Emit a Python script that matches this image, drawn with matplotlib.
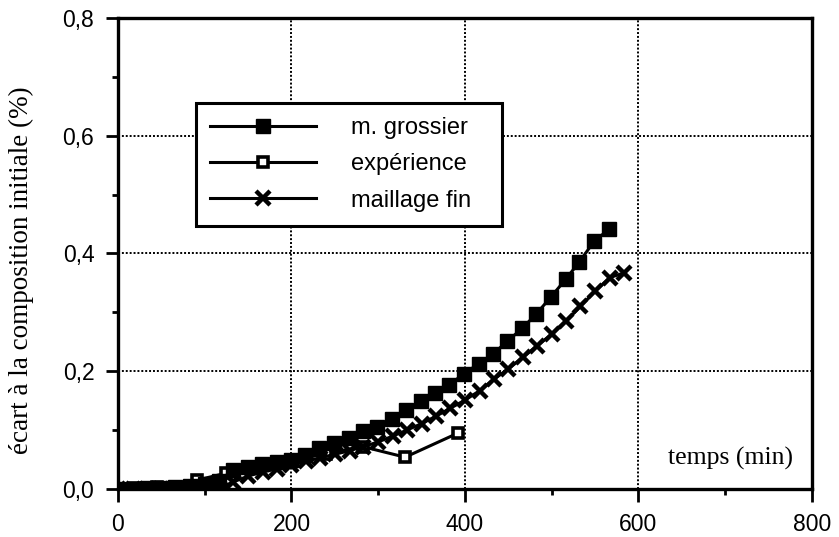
import numpy as np
import matplotlib.pyplot as plt
from matplotlib.ticker import MultipleLocator

# maillage grossier (filled squares)
x_grossier = [0, 17, 33, 50, 66, 83, 100, 116, 133, 150, 166, 183, 199, 216, 232,
              249, 266, 282, 299, 316, 332, 349, 366, 382, 399, 416, 432, 449,
              466, 482, 499, 516, 532, 549, 566]
y_grossier = [0.0, 0.0, 0.001, 0.002, 0.003, 0.005, 0.008, 0.014, 0.032, 0.038,
              0.043, 0.046, 0.049, 0.058, 0.069, 0.078, 0.086, 0.098, 0.106, 0.119,
              0.134, 0.149, 0.163, 0.177, 0.196, 0.213, 0.229, 0.251, 0.273, 0.297,
              0.326, 0.356, 0.386, 0.421, 0.441]

# experience (open squares)
x_exp = [0, 20, 45, 91, 125, 160, 200, 240, 282, 331, 392]
y_exp = [0.0, 0.001, 0.003, 0.015, 0.027, 0.038, 0.048, 0.060, 0.072, 0.054, 0.095]

# maillage fin (crosses)
x_fin = [0, 17, 33, 50, 67, 83, 100, 117, 133, 150, 167, 183, 200, 217, 233, 250,
         267, 283, 300, 317, 333, 350, 367, 383, 400, 417, 433, 450, 467, 483,
         500, 517, 533, 550, 567, 583]
y_fin = [0.0, 0.0, 0.0, 0.0, 0.0, 0.0, 0.0, 0.002, 0.012, 0.022, 0.029, 0.034,
         0.040, 0.047, 0.053, 0.059, 0.065, 0.072, 0.080, 0.090, 0.100, 0.111,
         0.124, 0.137, 0.151, 0.167, 0.186, 0.204, 0.224, 0.243, 0.263, 0.286,
         0.310, 0.336, 0.359, 0.367]

xticks = [0, 200, 400, 600, 800]
yticks = [0.0, 0.2, 0.4, 0.6, 0.8]
ytick_labels = ["0,0", "0,2", "0,4", "0,6", "0,8"]

fig = plt.figure(figsize=(8.39, 5.37), dpi=100)
ax = fig.add_axes([0.1406, 0.0894, 0.8272, 0.8771])

ax.plot(x_exp, y_exp, color='black', lw=2.2, marker='s', ms=7.5, mfc='white',
        mec='black', mew=2.6, label='expérience', zorder=3)
ax.plot(x_fin, y_fin, color='black', lw=2.2, marker='x', ms=10, mew=3.2,
        label='maillage fin', zorder=4)
ax.plot(x_grossier, y_grossier, color='black', lw=2.2, marker='s', ms=9.5,
        mfc='black', mec='black', label='m. grossier', zorder=5)

ax.set_xlim(0, 800)
ax.set_ylim(0, 0.8)
ax.set_xticks(xticks)
ax.set_yticks(yticks)
ax.set_yticklabels(ytick_labels)
ax.xaxis.set_minor_locator(MultipleLocator(100))
ax.yaxis.set_minor_locator(MultipleLocator(0.1))

ax.grid(True, which='major', color='black', linestyle=(0, (1, 1)), lw=1.4)
for s in ax.spines.values():
    s.set_linewidth(2.4)

ax.tick_params(which='major', direction='out', length=9, width=2,
               labelsize=16.5, pad=8)
ax.tick_params(which='minor', direction='out', length=4, width=2)
for lab in ax.get_xticklabels() + ax.get_yticklabels():
    lab.set_fontfamily('Liberation Sans')

ax.text(0.9726, 0.0658, 'temps (min)', transform=ax.transAxes, ha='right',
        va='center', fontsize=18.5, family='Liberation Serif')
fig.text(21 / 839, 1 - 270 / 537, 'écart à la composition initiale (%)',
         rotation=90, ha='center', va='center', fontsize=19.5,
         family='Liberation Serif')

h, l = ax.get_legend_handles_labels()
order = [2, 0, 1]
leg = ax.legend([h[i] for i in order], [l[i] for i in order],
                loc='upper left', bbox_to_anchor=(0.1124, 0.539, 0.4406, 0.2805),
                mode='expand', borderaxespad=0, fancybox=False, framealpha=1,
                edgecolor='black', handlelength=4.5, handletextpad=1.45,
                borderpad=0.6, labelspacing=0.6,
                prop={'family': 'Liberation Sans', 'size': 17})
leg.get_frame().set_linewidth(2.2)
leg.set_zorder(10)

plt.savefig('out.png', dpi=100)
